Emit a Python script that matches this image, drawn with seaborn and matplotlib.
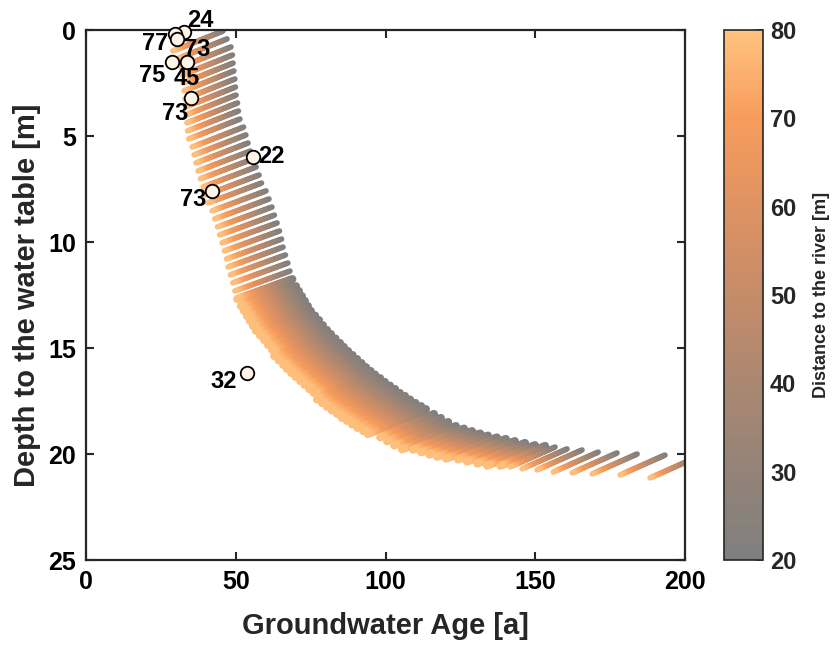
# Groundwater age vs depth to the water table, coloured by distance to the river.
import numpy as np
import pandas as pd
import seaborn as sns
import matplotlib.pyplot as plt
from matplotlib.collections import LineCollection
from matplotlib.colors import LinearSegmentedColormap, Normalize
from matplotlib.cm import ScalarMappable

# model streaks: each one runs from 20 m (grey end) to 80 m (orange end) from the river
age_near = [45.7, 47.1, 48.4, 48.9, 49.1, 49.4, 49.7, 49.9, 50.1, 50.6,
            50.9, 51.4, 52.6, 53.4, 54.1, 54.9, 55.8, 56.8, 57.8, 58.6,
            60.1, 61.1, 62.1, 62.9, 63.8, 64.6, 65.3, 65.8, 66.6, 67.4,
            68.1, 68.9,
            70.1, 71.1, 72.1, 73.1, 74.1, 75.1, 76.5, 77.8, 79.1, 80.5,
            81.8, 83.3, 84.8, 86.1, 87.5, 89.0, 90.5, 92.0, 93.5, 95.0,
            96.5, 98.2, 99.8, 101.5, 103.2, 104.8, 106.5, 108.2, 110.0, 111.9,
            113.5,
            116.2, 118.5, 120.9, 123.5, 126.2, 128.9, 131.6, 134.2, 137.2, 140.2,
            143.2, 146.6, 149.9, 153.3, 156.6, 160.6, 165.6, 171.0, 177.3, 184.0,
            193.3, 203.3]
depth_near = [0.05, 0.42, 0.80, 1.18, 1.56, 1.93, 2.31, 2.69, 3.07, 3.44,
              3.82, 4.20, 4.58, 4.95, 5.33, 5.71, 6.08, 6.46, 6.84, 7.22,
              7.59, 7.97, 8.35, 8.73, 9.10, 9.48, 9.86, 10.24, 10.61, 10.99,
              11.37, 11.75,
              12.08, 12.31, 12.55, 12.78, 13.02, 13.25, 13.47, 13.68, 13.92, 14.15,
              14.34, 14.55, 14.76, 14.95, 15.14, 15.33, 15.52, 15.71, 15.90, 16.08,
              16.25, 16.42, 16.60, 16.77, 16.93, 17.12, 17.26, 17.43, 17.59, 17.74,
              17.88,
              18.11, 18.30, 18.49, 18.68, 18.80, 18.92, 19.03, 19.13, 19.22, 19.29,
              19.39, 19.48, 19.58, 19.62, 19.67, 19.76, 19.81, 19.91, 19.95, 20.00,
              20.05, 20.19]
age_far = [29.0, 30.4, 31.7, 32.2, 32.4, 32.7, 33.0, 33.2, 33.3, 33.7,
           33.9, 34.3, 35.4, 36.1, 36.7, 37.4, 38.2, 39.1, 40.0, 40.7,
           42.1, 43.0, 43.9, 44.6, 45.4, 46.2, 46.9, 47.4, 48.2, 49.0,
           49.7, 50.5,
           51.7, 52.7, 53.7, 54.7, 55.7, 56.7, 58.1, 59.4, 60.7, 62.1,
           62.8, 64.3, 65.8, 67.1, 68.5, 70.0, 71.5, 73.0, 74.5, 76.0,
           77.1, 78.8, 80.4, 82.1, 83.8, 85.4, 87.1, 88.8, 90.6, 92.5,
           94.1,
           98.2, 100.5, 102.9, 105.5, 109.2, 111.9, 114.6, 117.2, 120.2, 124.2,
           127.2, 130.6, 133.9, 138.3, 141.6, 145.6, 150.6, 156.0, 162.3, 169.0,
           178.3, 188.3]
depth_far = [0.99, 1.36, 1.74, 2.12, 2.50, 2.87, 3.25, 3.63, 4.01, 4.38,
             4.76, 5.14, 5.52, 5.89, 6.27, 6.65, 7.02, 7.40, 7.78, 8.16,
             8.53, 8.91, 9.29, 9.67, 10.04, 10.42, 10.80, 11.18, 11.55, 11.93,
             12.31, 12.69,
             13.02, 13.25, 13.49, 13.72, 13.96, 14.19, 14.41, 14.62, 14.86, 15.09,
             15.38, 15.59, 15.80, 15.99, 16.18, 16.37, 16.56, 16.75, 16.94, 17.12,
             17.43, 17.60, 17.78, 17.95, 18.11, 18.30, 18.44, 18.61, 18.77, 18.92,
             19.06,
             19.21, 19.40, 19.59, 19.78, 19.80, 19.92, 20.03, 20.13, 20.22, 20.26,
             20.36, 20.45, 20.55, 20.56, 20.61, 20.70, 20.75, 20.85, 20.89, 20.94,
             20.99, 21.13]
dist_near, dist_far = 20, 80

# sampled wells
sample_age = [32.7, 29.7, 30.4, 28.7, 33.7, 35.1, 55.8, 42.1, 53.8]
sample_depth = [0.09, 0.19, 0.42, 1.51, 1.51, 3.21, 5.99, 7.59, 16.2]
sample_label = ['24', '77', '73', '75', '45', '73', '22', '73', '32']

# colormap (20 -> 80 m)
cbar_colors = ['#7f7f7f', '#948378', '#ab8771', '#c58c69', '#de9262',
               '#f79c5c', '#ffc27f']

sns.set_theme(style="ticks")
plt.rcParams['font.family'] = ['Liberation Sans', 'DejaVu Sans']
plt.rcParams['font.weight'] = 'bold'

cmap = LinearSegmentedColormap.from_list('river', cbar_colors)
norm = Normalize(dist_near, dist_far)


def streak(a0, d0, a1, d1, n=30):
    """Split one streak into short pieces so it can carry a colour gradient."""
    t = np.linspace(0, 1, n + 1)
    pts = np.column_stack([a0 + (a1 - a0) * t, d0 + (d1 - d0) * t])
    segs = np.stack([pts[:-1], pts[1:]], axis=1)
    dist = dist_near + (dist_far - dist_near) * (t[:-1] + t[1:]) / 2
    return segs, dist


fig = plt.figure(figsize=(8.39, 6.48), dpi=100)
ax = fig.add_axes([0.1025, 0.1358, 0.714, 0.8179])

all_segs, all_dist, all_lw = [], [], []
for i, (a0, d0, a1, d1) in enumerate(zip(age_near, depth_near, age_far, depth_far)):
    s, d = streak(a0, d0, a1, d1)
    all_segs.append(s)
    all_dist.append(d)
    # streaks in the middle of the curve sit so close that they merge
    lw = 5.8 if 31 <= i <= 76 else 4.0
    all_lw.append(np.full(len(d), lw))
all_segs = np.concatenate(all_segs)
all_dist = np.concatenate(all_dist)
all_lw = np.concatenate(all_lw)
# draw near-river pieces first, far pieces last
order = np.argsort(all_dist, kind='stable')
lc = LineCollection(all_segs[order], cmap=cmap, norm=norm,
                    linewidths=all_lw[order], capstyle='round')
lc.set_array(all_dist[order])
ax.add_collection(lc)

samples = pd.DataFrame({'age': sample_age, 'depth': sample_depth,
                        'label': sample_label})
sns.scatterplot(data=samples, x='age', y='depth', ax=ax, s=95,
                color='#fdf3e6', edgecolor='black', linewidth=1.3, zorder=5,
                clip_on=False)

# label offsets in points (placement only)
offsets = [(11.5, 8), (-14.4, -6.5), (14.2, -7.9), (-14.6, -9.4), (0, -11.7),
           (-11.5, -11), (13.4, 0), (-13.4, -6.5), (-16.6, -5.8)]
for (_, row), off in zip(samples.iterrows(), offsets):
    ax.annotate(row['label'], (row['age'], row['depth']), xytext=off,
                textcoords='offset points', ha='center', va='center',
                fontsize=17, fontweight='bold', color='black', zorder=6,
                annotation_clip=False)

ax.set_xlim(0, 200)
ax.set_ylim(25, 0)
ax.set_xticks([0, 50, 100, 150, 200])
ax.set_yticks([0, 5, 10, 15, 20, 25])
ax.set_xlabel('Groundwater Age [a]', fontsize=21, fontweight='bold', labelpad=13)
ax.set_ylabel('Depth to the water table [m]', fontsize=21, fontweight='bold',
              labelpad=5)
ax.tick_params(direction='in', length=6, width=1.5, labelsize=18, pad=7,
               top=True, right=True, colors='#262626', labelcolor='black')
for lab in ax.get_xticklabels() + ax.get_yticklabels():
    lab.set_fontweight('bold')
for sp in ax.spines.values():
    sp.set_linewidth(1.6)
    sp.set_color('#262626')

cax = fig.add_axes([0.863, 0.1358, 0.0465, 0.8179])
cbar = fig.colorbar(ScalarMappable(norm=norm, cmap=cmap), cax=cax)
cbar.set_ticks([20, 30, 40, 50, 60, 70, 80])
cbar.ax.tick_params(direction='in', length=5, width=1.2, labelsize=17, pad=5)
for lab in cbar.ax.get_yticklabels():
    lab.set_fontweight('bold')
cbar.outline.set_linewidth(1.2)
cbar.outline.set_edgecolor('#262626')
cbar.set_label('Distance to the river [m]', fontsize=13, fontweight='bold',
               labelpad=12)

fig.savefig('out.png', dpi=100)
